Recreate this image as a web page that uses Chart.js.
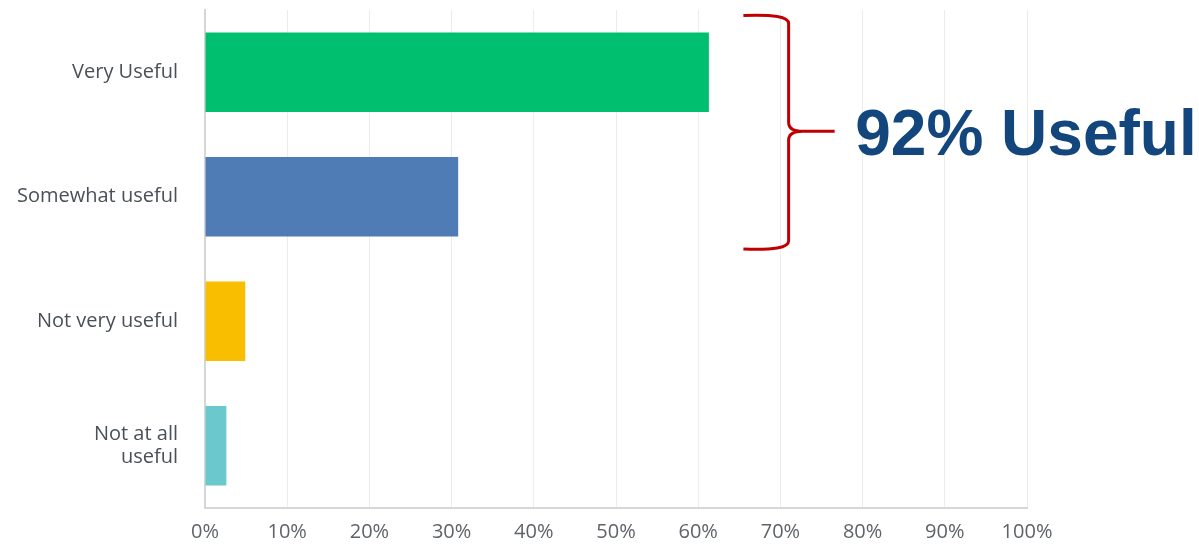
<!DOCTYPE html>
<html>
<head>
<meta charset="utf-8">
<script src="https://cdn.jsdelivr.net/npm/chart.js@4.4.1/dist/chart.umd.min.js"></script>
<style>
  html, body { margin: 0; padding: 0; background: #ffffff; }
  #wrap { width: 1199px; height: 544px; position: relative; }
</style>
</head>
<body>
<div id="wrap"><canvas id="c" width="1199" height="544"></canvas></div>
<script>
// ---- data ----
const categories = ["Very Useful", "Somewhat useful", "Not very useful", ["Not at all", "useful"]];
const values = [61.3, 30.8, 4.9, 2.6];
const barColors = ["#00BF6F", "#507CB6", "#F9BE00", "#6BC8CD"];
const tickValues = [0, 10, 20, 30, 40, 50, 60, 70, 80, 90, 100];
const annotationText = "92% Useful";

const braceCfg = {
  armX: 65.5,    // x-value where the brace arms end (left)
  spineX: 71,    // x-value of the brace spine
  tipX: 76.6,    // x-value of the brace tip
  textX: 79.1    // x-value where the text starts
};

const bracePlugin = {
  id: 'brace',
  afterDraw(chart) {
    const ctx = chart.ctx;
    const xs = chart.scales.x, ys = chart.scales.y;
    const c0 = ys.getPixelForValue(0), c1 = ys.getPixelForValue(1);
    const step = c1 - c0;
    const top = c0 - step * 0.455;
    const bot = c1 + step * 0.42;
    const mid = (top + bot) / 2 - 1;
    const ax = xs.getPixelForValue(braceCfg.armX);
    const sx = xs.getPixelForValue(braceCfg.spineX);
    const tx = xs.getPixelForValue(braceCfg.tipX);
    ctx.save();
    ctx.strokeStyle = '#C00000';
    ctx.lineWidth = 3;
    ctx.lineJoin = 'round';
    ctx.beginPath();
    ctx.moveTo(ax, top);
    ctx.bezierCurveTo(ax + 30, top - 1, sx, top + 1, sx, top + 8);
    ctx.lineTo(sx, mid - 9);
    ctx.bezierCurveTo(sx, mid - 2, sx + 6, mid, sx + 14, mid);
    ctx.lineTo(tx, mid);
    ctx.moveTo(sx + 14, mid);
    ctx.bezierCurveTo(sx + 6, mid, sx, mid + 2, sx, mid + 9);
    ctx.lineTo(sx, bot - 8);
    ctx.bezierCurveTo(sx, bot - 1, ax + 30, bot + 1, ax, bot);
    ctx.stroke();
    ctx.fillStyle = '#12467D';
    ctx.font = 'bold 64px "Liberation Sans", Arial, sans-serif';
    ctx.textBaseline = 'alphabetic';
    ctx.textAlign = 'left';
    ctx.fillText(annotationText, xs.getPixelForValue(braceCfg.textX), mid + 24);
    ctx.restore();
  }
};

new Chart(document.getElementById('c'), {
  type: 'bar',
  data: {
    labels: categories,
    datasets: [{
      data: values,
      backgroundColor: barColors,
      borderWidth: 0,
      categoryPercentage: 1.0,
      barPercentage: 0.64
    }]
  },
  options: {
    indexAxis: 'y',
    responsive: false,
    animation: false,
    devicePixelRatio: 1,
    layout: { padding: { top: 10, right: 172, bottom: 0, left: 0 } },
    plugins: { legend: { display: false }, tooltip: { enabled: false } },
    scales: {
      x: {
        min: 0, max: 100,
        afterBuildTicks(scale) { scale.ticks = tickValues.map(v => ({ value: v })); },
        afterFit(scale) { scale.height = 36; scale.paddingLeft = 0; scale.paddingRight = 0; },
        grid: { color: '#ececec', lineWidth: 1, drawTicks: false },
        border: { color: '#d6d6d6', width: 2 },
        ticks: {
          padding: 12,
          maxRotation: 0,
          color: '#5f6368',
          font: { family: '"Open Sans", sans-serif', size: 20 },
          callback: v => v + '%'
        }
      },
      y: {
        afterFit(scale) { scale.width = 205; scale.paddingTop = 0; scale.paddingBottom = 0; },
        grid: { display: false, drawTicks: false },
        border: { color: '#d6d6d6', width: 2 },
        ticks: {
          padding: 27,
          color: '#4a5059',
          font: { family: '"Open Sans", sans-serif', size: 20, lineHeight: 1.15 }
        }
      }
    }
  },
  plugins: [bracePlugin]
});
</script>
</body>
</html>
